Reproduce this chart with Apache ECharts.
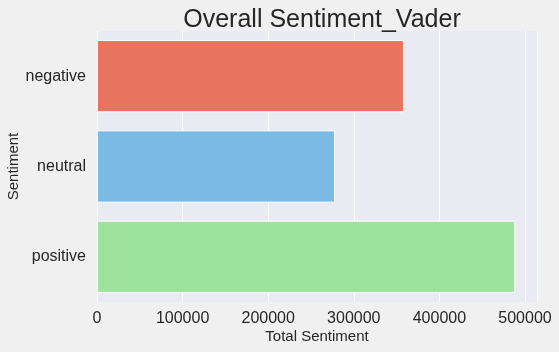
<html>
<head>
  <meta http-equiv="Content-Type" content="text/html; charset=UTF-8">
  <script src="https://cdn.jsdelivr.net/npm/echarts@6/dist/echarts.min.js"></script>
  <style>
    body { margin:0; background:#f0f0f0; }
    #chart { width:559px; height:352px; }
  </style>
</head>
<body>
<div id="chart"></div>
<script>
  var categories = ['negative', 'neutral', 'positive'];
  var totals = [358600, 278000, 488700];
  var barColors = ['#e8735f', '#7bbae5', '#9de39e'];
  var xTicks = [0, 100000, 200000, 300000, 400000, 500000];

  var font = 'Liberation Sans, Arial, sans-serif';
  var myChart = echarts.init(document.getElementById('chart'), null, { renderer: 'canvas' });

  var seriesData = [];
  for (var i = 0; i < categories.length; i++) {
    seriesData.push({ value: totals[i], itemStyle: { color: barColors[i] } });
  }

  var options = {
    backgroundColor: '#f0f0f0',
    animation: false,
    title: {
      text: 'Overall Sentiment_Vader',
      left: 317, top: 3, textAlign: 'center',
      textStyle: { fontFamily: font, fontSize: 25, fontWeight: 'normal', color: '#262626' }
    },
    grid: {
      left: 97, right: 22, top: 31, bottom: 50,
      containLabel: false, outerBoundsMode: 'none',
      show: true, backgroundColor: '#eaeaf2', borderWidth: 0
    },
    xAxis: {
      type: 'value',
      min: 0, max: 514000, interval: 100000,
      name: 'Total Sentiment', nameLocation: 'middle', nameGap: 27,
      nameMoveOverlap: false,
      nameTextStyle: { fontFamily: font, fontSize: 15, color: '#262626' },
      axisLine: { show: false },
      axisTick: { show: false },
      axisLabel: {
        fontFamily: font, fontSize: 16, color: '#262626', margin: 9,
        customValues: xTicks,
        formatter: function (v) { return String(v); }
      },
      splitLine: { show: true, lineStyle: { color: '#ffffff', width: 1 } }
    },
    yAxis: {
      type: 'category',
      data: categories,
      inverse: true,
      name: 'Sentiment', nameLocation: 'middle', nameGap: 76,
      nameMoveOverlap: false,
      nameTextStyle: { fontFamily: font, fontSize: 15, color: '#262626' },
      axisLine: { show: false },
      axisTick: { show: false },
      axisLabel: { fontFamily: font, fontSize: 16, color: '#262626', margin: 11 },
      splitLine: { show: false }
    },
    series: [{
      type: 'bar',
      data: seriesData,
      barCategoryGap: '20%',
      itemStyle: { borderColor: '#ffffff', borderWidth: 1 }
    }]
  };
  myChart.setOption(options);
</script>
</body>
</html>
